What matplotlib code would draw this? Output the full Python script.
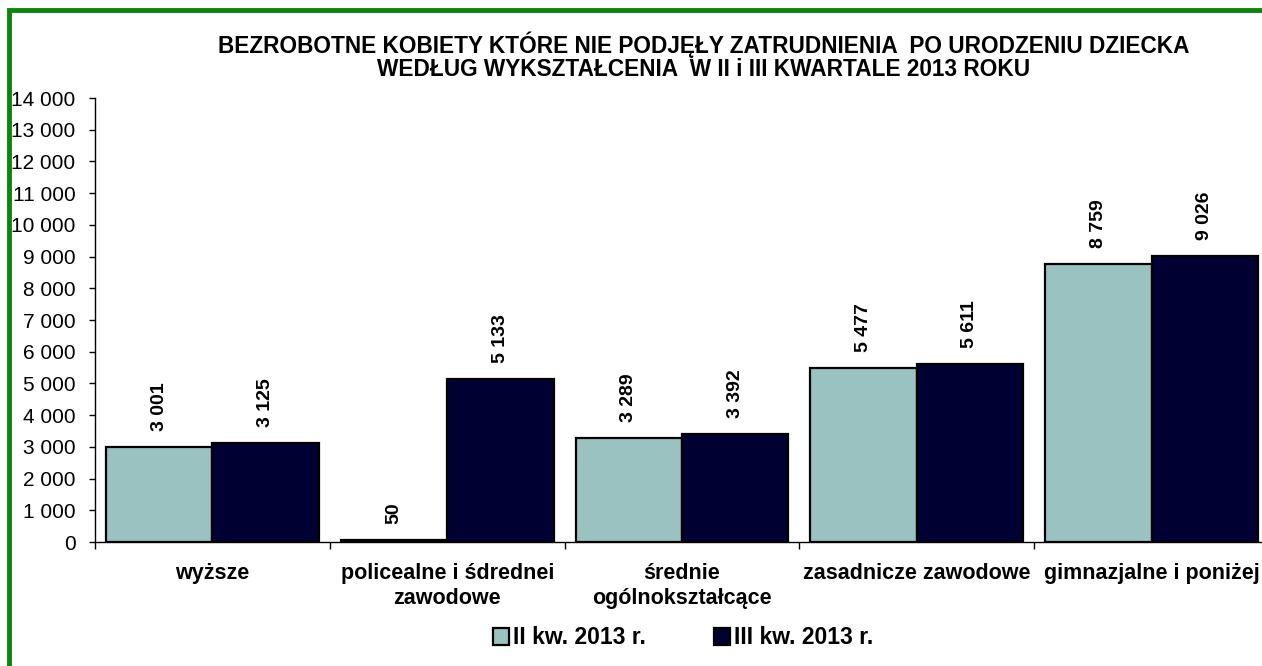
import matplotlib.pyplot as plt
import numpy as np
from matplotlib.patches import Patch, Rectangle
from matplotlib.ticker import FuncFormatter, MultipleLocator

plt.rcParams['font.family'] = ['Liberation Sans', 'DejaVu Sans']

categories = ['wyższe', 'policealne i śdrednei\nzawodowe', 'średnie\nogólnokształcące',
              'zasadnicze zawodowe', 'gimnazjalne i poniżej']
q2 = [3001, 50, 3289, 5477, 8759]
q3 = [3125, 5133, 3392, 5611, 9026]
series_names = ['II kw. 2013 r.', 'III kw. 2013 r.']
colors = ['#9AC2C1', '#000033']


def spaced(v, pos=None):
    return f'{int(v):,}'.replace(',', ' ')


fig = plt.figure(figsize=(12.62, 6.66), dpi=100)
ax = fig.add_axes([95 / 1262, 124 / 666, 1174 / 1262, 444 / 666])

x = np.arange(len(categories))
w = 0.453
for vals, col, off in [(q2, colors[0], -w / 2), (q3, colors[1], w / 2)]:
    bars = ax.bar(x + off, vals, width=w, color=col, edgecolor='black', linewidth=1.6)
    for b, v in zip(bars, vals):
        ax.annotate(spaced(v), (b.get_x() + b.get_width() / 2, v), xytext=(0, 16),
                    textcoords='offset pixels', rotation=90, ha='center', va='bottom',
                    fontsize=14, fontweight='bold')

ax.set_xlim(-0.5, len(categories) - 0.5)
ax.set_ylim(0, 14000)
ax.yaxis.set_major_locator(MultipleLocator(1000))
ax.yaxis.set_major_formatter(FuncFormatter(spaced))
ax.tick_params(axis='y', direction='out', length=4, width=1, labelsize=15, pad=10)

ax.set_xticks(x)
ax.set_xticklabels(categories, fontsize=15.5, fontweight='bold', linespacing=1.25)
ax.set_xticks(np.arange(-0.5, len(categories)), minor=True)
ax.tick_params(axis='x', which='major', length=0, pad=15)
ax.tick_params(axis='x', which='minor', direction='out', length=5, width=1)

for s in ['top', 'right']:
    ax.spines[s].set_visible(False)
ax.spines['left'].set_linewidth(1)
ax.spines['bottom'].set_linewidth(1)

fig.text(704 / 1262, 1 - 45 / 666, 'BEZROBOTNE KOBIETY KTÓRE NIE PODJĘŁY ZATRUDNIENIA  PO URODZENIU DZIECKA',
         ha='center', va='center', fontsize=16.3, fontweight='bold')
fig.text(704 / 1262, 1 - 70 / 666, 'WEDŁUG WYKSZTAŁCENIA  W II i III KWARTALE 2013 ROKU',
         ha='center', va='center', fontsize=16.3, fontweight='bold')

handles = [Patch(facecolor=c, edgecolor='black', linewidth=1.6) for c in colors]
fig.legend(handles, series_names, loc='center', bbox_to_anchor=(683 / 1262, 28 / 666),
           ncol=2, frameon=False, handlelength=0.7, handleheight=0.7, handletextpad=0.15,
           columnspacing=3.0, prop={'weight': 'bold', 'size': 16.5})

# green frame along the top and left edges
fig.patches.append(Rectangle((9 / 1262, -0.1), 1.2, 1.1 - 10 / 666, transform=fig.transFigure,
                             fill=False, edgecolor='#0A870A', linewidth=3.5))

fig.savefig('out.png', dpi=100)
